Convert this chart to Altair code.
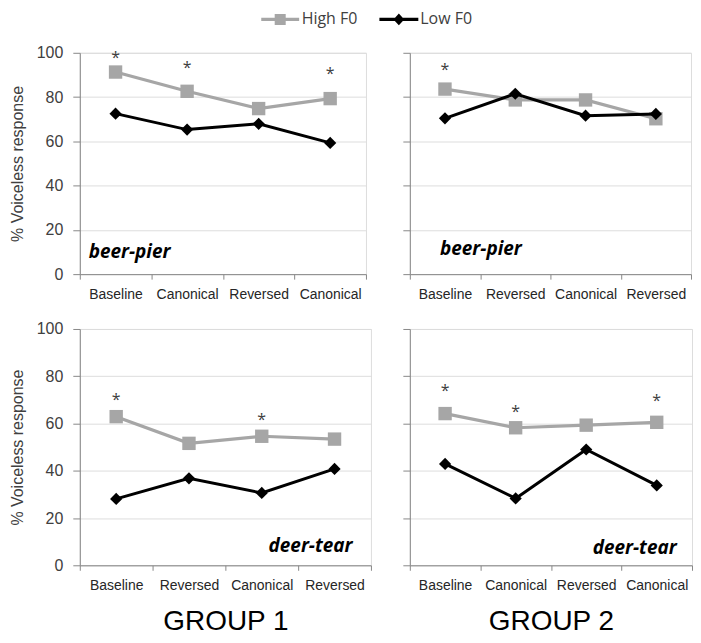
import json
import altair as alt
import pandas as pd

FONT = "Open Sans"
AXIS_GRAY = "#868686"
LABEL_GRAY = "#404040"

series_names = ["High F0", "Low F0"]
series_colors = ["#A6A6A6", "#000000"]

# Group 1, beer-pier
cats_g1_beer = ["Baseline", "Canonical", "Reversed", "Canonical"]
high_g1_beer = [91.3, 82.6, 74.8, 79.3]
low_g1_beer = [72.5, 65.3, 67.9, 59.3]
stars_pos_g1_beer = [0, 1, 3]
stars_y_g1_beer = [99.5, 94.7, 92.0]

# Group 2, beer-pier
cats_g2_beer = ["Baseline", "Reversed", "Canonical", "Reversed"]
high_g2_beer = [83.6, 78.7, 78.7, 70.2]
low_g2_beer = [70.4, 81.5, 71.6, 72.4]
stars_pos_g2_beer = [0]
stars_y_g2_beer = [93.8]

# Group 1, deer-tear
cats_g1_deer = ["Baseline", "Reversed", "Canonical", "Reversed"]
high_g1_deer = [62.9, 51.6, 54.6, 53.4]
low_g1_deer = [28.1, 36.8, 30.6, 40.8]
stars_pos_g1_deer = [0, 2]
stars_y_g1_deer = [71.8, 63.3]

# Group 2, deer-tear
cats_g2_deer = ["Baseline", "Canonical", "Reversed", "Canonical"]
high_g2_deer = [64.2, 58.2, 59.3, 60.5]
low_g2_deer = [42.9, 28.3, 49.0, 33.8]
stars_pos_g2_deer = [0, 1, 3]
stars_y_g2_deer = [75.6, 66.6, 71.0]

y_ticks = [0, 20, 40, 60, 80, 100]
group_titles = ["GROUP 1", "GROUP 2"]
word_pairs = ["beer-pier", "deer-tear"]
y_title = "% Voiceless response"

# legend symbols: line sample with marker (unit coordinates)
legend_shapes = [
    "M-2.375,-0.19H2.375V0.19H-2.375Z M-0.69,-0.69H0.69V0.69H-0.69Z",
    "M-2.44,-0.19H2.44V0.19H-2.44Z M0,-0.75L0.68,0L0,0.75L-0.68,0Z",
]


def panel(cats, high, low, star_pos, star_y, note, note_pos, note_y,
          note_align, note_dx, width, height, left_axis, x_title,
          with_legend=False, title_pad=11):
    df = pd.DataFrame({
        "pos": list(range(len(cats))) * 2,
        "series": [series_names[0]] * len(cats) + [series_names[1]] * len(cats),
        "value": list(high) + list(low),
    })
    stars = pd.DataFrame({"pos": star_pos, "value": star_y})
    notes = pd.DataFrame({"pos": [note_pos], "value": [note_y], "note": [note]})

    x_axis_kw = dict(
        tickBand="extent", labelExpr=json.dumps(cats) + "[datum.value]",
        labelAngle=0, labelFontSize=14, labelColor="#262626", labelPadding=8,
        tickSize=5, labelOverlap=False,
    )
    if x_title:
        x_axis_kw.update(title=x_title, titleFontSize=28, titleFontWeight="normal",
                         titleColor="#000000", titlePadding=15)
    else:
        x_axis_kw.update(title=None)
    x = alt.X("pos:O", scale=alt.Scale(type="band", paddingInner=0, paddingOuter=0,
                                      domain=list(range(len(cats)))),
              axis=alt.Axis(**x_axis_kw))

    if left_axis:
        y_axis = alt.Axis(values=y_ticks, title=y_title, titleFontSize=16,
                          titleFontWeight="normal", titleColor=LABEL_GRAY,
                          titlePadding=title_pad, labelFontSize=16, labelColor=LABEL_GRAY,
                          labelPadding=10, tickSize=7)
    else:
        y_axis = alt.Axis(values=y_ticks, title=None, labels=False, tickSize=7)
    y = alt.Y("value:Q", scale=alt.Scale(domain=[0, 100], nice=False), axis=y_axis)

    base = alt.Chart(df).encode(x=x, y=y)
    hi_line = base.transform_filter(alt.datum.series == series_names[0]).mark_line(
        color=series_colors[0], strokeWidth=3.2)
    hi_pts = base.transform_filter(alt.datum.series == series_names[0]).mark_point(
        shape="square", filled=True, size=180, color=series_colors[0], opacity=1)
    lo_line = base.transform_filter(alt.datum.series == series_names[1]).mark_line(
        color=series_colors[1], strokeWidth=3)
    lo_pts = base.transform_filter(alt.datum.series == series_names[1]).mark_point(
        shape="diamond", filled=True, size=150, color=series_colors[1], opacity=1)
    star_layer = alt.Chart(stars).mark_text(
        text="*", font=FONT, fontSize=16, color=LABEL_GRAY, baseline="middle", dy=4
    ).encode(x=x, y=y)
    note_layer = alt.Chart(notes).mark_text(
        font=FONT, fontSize=19, fontStyle="italic", fontWeight="bold", color="#000000",
        align=note_align, baseline="alphabetic", dx=note_dx
    ).encode(x=x, y=y, text="note:N")

    layers = [hi_line, hi_pts, lo_line, lo_pts, star_layer, note_layer]
    if with_legend:
        leg = alt.Legend(orient="none", legendX=193, legendY=-41.5, direction="horizontal",
                         columns=2, title=None, symbolSize=256, symbolStrokeWidth=0,
                         symbolOpacity=1, labelFont=FONT, labelFontSize=16,
                         labelColor=LABEL_GRAY, labelOffset=13.5, columnPadding=21,
                         padding=0)
        legend_layer = alt.Chart(df).transform_filter("false").mark_point(
            filled=True, opacity=1
        ).encode(
            x=x, y=y,
            color=alt.Color("series:N", scale=alt.Scale(domain=series_names, range=series_colors),
                            legend=leg),
            shape=alt.Shape("series:N", scale=alt.Scale(domain=series_names, range=legend_shapes),
                            legend=leg),
        )
        layers.append(legend_layer)
    return alt.layer(*layers).properties(width=width, height=height)


tl = panel(cats_g1_beer, high_g1_beer, low_g1_beer, stars_pos_g1_beer, stars_y_g1_beer,
           word_pairs[0], 0, 7.5, "left", -27, 287, 222, True, None, with_legend=True)
tr = panel(cats_g2_beer, high_g2_beer, low_g2_beer, stars_pos_g2_beer, stars_y_g2_beer,
           word_pairs[0], 0, 8.5, "left", -5, 282, 222, False, None)
bl = panel(cats_g1_deer, high_g1_deer, low_g1_deer, stars_pos_g1_deer, stars_y_g1_deer,
           word_pairs[1], 3, 5.5, "right", 18, 292, 237, True, group_titles[0])
br = panel(cats_g2_deer, high_g2_deer, low_g2_deer, stars_pos_g2_deer, stars_y_g2_deer,
           word_pairs[1], 3, 4.6, "right", 20, 283, 237, False, group_titles[1])

chart = alt.concat(tl, tr, bl, br, columns=2, spacing={"row": 18, "column": 30}).properties(
    padding={"top": 2, "left": 0, "right": 0, "bottom": 0}
).configure_view(stroke=None).configure_axis(
    domainColor=AXIS_GRAY, tickColor=AXIS_GRAY, labelFont=FONT, titleFont=FONT,
    grid=False, domainWidth=1, tickWidth=1
).configure(background="white")

chart.save("out.html", embed_options={"renderer": "svg", "actions": False})
